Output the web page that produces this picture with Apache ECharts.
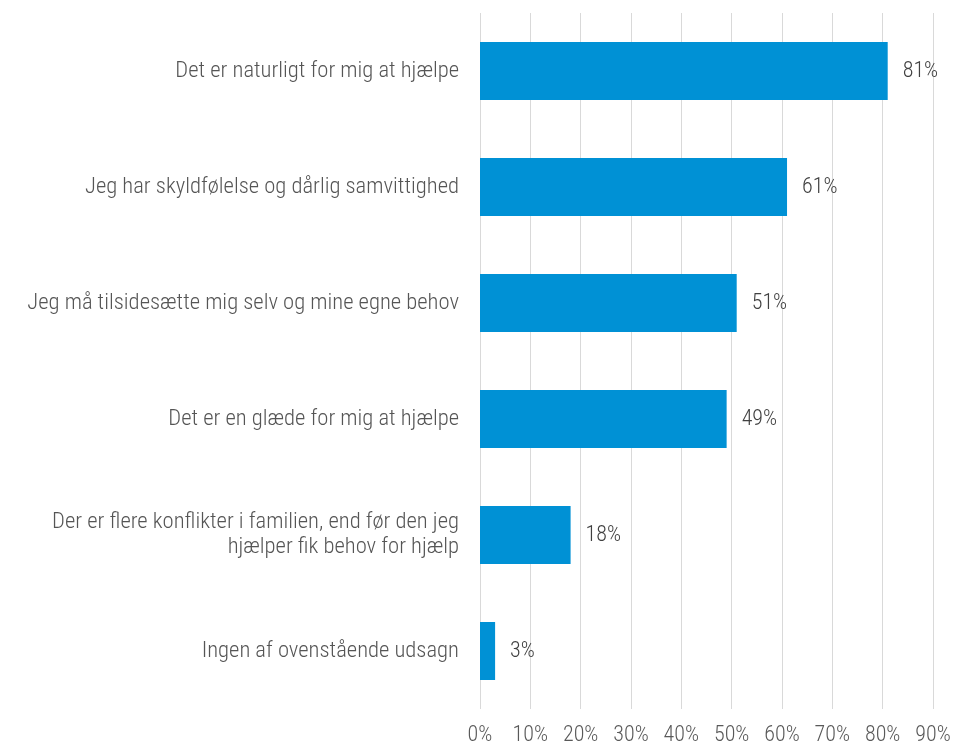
<!DOCTYPE html>
<html><head><meta charset="utf-8">
<script src="https://cdn.jsdelivr.net/npm/echarts@6/dist/echarts.min.js"></script>
<style>html,body{margin:0;padding:0;background:#fff}#c{width:977px;height:747px}</style>
</head><body><div id="c"></div>
<script>
const categories = [
  "Det er naturligt for mig at hjælpe",
  "Jeg har skyldfølelse og dårlig samvittighed",
  "Jeg må tilsidesætte mig selv og mine egne behov",
  "Det er en glæde for mig at hjælpe",
  "Der er flere konflikter i familien, end før den jeg\nhjælper fik behov for hjælp",
  "Ingen af ovenstående udsagn"
];
const values = [81, 61, 51, 49, 18, 3];
const tickMax = 90;
const tickStep = 10;

const FONT = "'Roboto Condensed', 'Liberation Sans', Arial, sans-serif";
const chart = echarts.init(document.getElementById('c'), null, {renderer: 'canvas'});
chart.setOption({
  animation: false,
  grid: {left: 480, right: 44, top: 13, bottom: 38, containLabel: false},
  xAxis: {
    type: 'value', min: 0, max: tickMax, interval: tickStep,
    axisLine: {show: false}, axisTick: {show: false},
    splitLine: {show: true, lineStyle: {color: '#d9d9d9', width: 1}},
    axisLabel: {formatter: '{value}%', color: '#595959', fontSize: 22, fontWeight: 300, fontFamily: FONT, margin: 15}
  },
  yAxis: {
    type: 'category', data: categories, inverse: true,
    axisLine: {show: false}, axisTick: {show: false},
    axisLabel: {color: '#555555', fontSize: 22.6, fontWeight: 300, fontFamily: FONT, margin: 21, align: 'right', lineHeight: 25}
  },
  series: [{
    type: 'bar', data: values, barCategoryGap: '50%',
    itemStyle: {color: '#0091d5'},
    label: {show: true, position: 'right', distance: 15, formatter: '{c}%', color: '#404040', fontSize: 22, fontWeight: 300, fontFamily: FONT}
  }]
});
</script></body></html>
